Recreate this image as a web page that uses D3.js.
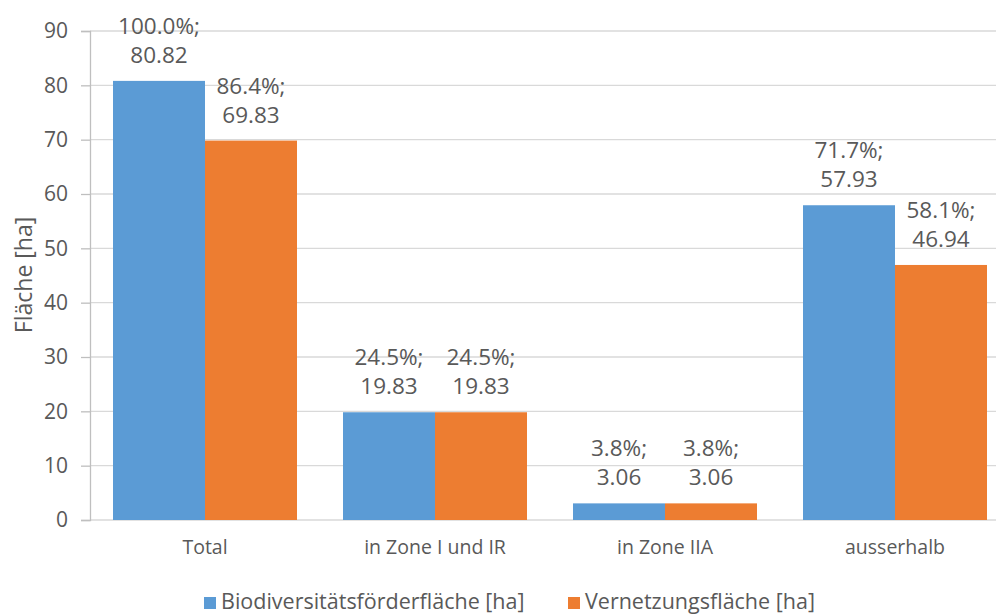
<!DOCTYPE html>
<html>
<head>
<meta charset="utf-8">
<script src="https://cdn.jsdelivr.net/npm/d3@7"></script>
<style>
  html, body { margin: 0; padding: 0; background: #fff; }
  svg { display: block; font-family: "Open Sans", "Noto Sans", sans-serif; }
</style>
</head>
<body>
<svg id="chart" width="996" height="614"></svg>
<script>
// Flächen nach Zone
const categories = ["Total", "in Zone I und IR", "in Zone IIA", "ausserhalb"];
const seriesNames = ["Biodiversitätsförderfläche [ha]", "Vernetzungsfläche [ha]"];
const biodiversitaet = [80.82, 19.83, 3.06, 57.93];
const vernetzung = [69.83, 19.83, 3.06, 46.94];
const biodiversitaetPct = ["100.0%", "24.5%", "3.8%", "71.7%"];
const vernetzungPct = ["86.4%", "24.5%", "3.8%", "58.1%"];
const yTicks = [0, 10, 20, 30, 40, 50, 60, 70, 80, 90];

const colors = ["#5B9BD5", "#ED7D31"];
const textColor = "#595959";
const gridColor = "#D9D9D9";

const svg = d3.select("#chart");
const plotLeft = 90, plotRight = 1010, plotTop = 31, plotBottom = 520;

const x = d3.scaleBand().domain(categories).range([plotLeft, plotRight])
  .paddingInner(0.2).paddingOuter(0.1);
const xs = d3.scaleBand().domain([0, 1]).range([0, x.bandwidth()]);
const y = d3.scaleLinear().domain([0, 90]).range([plotBottom, plotTop]);

// Gitterlinien
svg.append("g").selectAll("line").data(yTicks).join("line")
  .attr("x1", plotLeft).attr("x2", plotRight)
  .attr("y1", d => y(d)).attr("y2", d => y(d))
  .attr("stroke", gridColor).attr("stroke-width", 1.3);

// y-Achse
const yAxis = svg.append("g").attr("transform", `translate(${plotLeft},0)`)
  .call(d3.axisLeft(y).tickValues(yTicks).tickSize(9).tickPadding(13));
yAxis.select(".domain").attr("stroke", "#BFBFBF").attr("stroke-width", 1.3);
yAxis.selectAll(".tick line").attr("stroke", "#BFBFBF").attr("stroke-width", 1.3);
yAxis.selectAll(".tick text").attr("fill", textColor)
  .style("font-size", "21px").style("font-family", "'Open Sans', sans-serif");

// x-Achse (Beschriftung)
const xAxis = svg.append("g").attr("transform", `translate(0,${plotBottom})`)
  .call(d3.axisBottom(x).tickSize(0).tickPadding(20));
xAxis.select(".domain").remove();
xAxis.selectAll(".tick text").attr("fill", textColor)
  .style("font-size", "19.5px").style("font-family", "'Open Sans', sans-serif");

// Balken
const series = [biodiversitaet, vernetzung];
const pcts = [biodiversitaetPct, vernetzungPct];
const rows = [];
series.forEach((vals, s) => vals.forEach((v, i) => rows.push({ s, i, v, p: pcts[s][i] })));

svg.append("g").selectAll("rect").data(rows).join("rect")
  .attr("x", d => x(categories[d.i]) + xs(d.s))
  .attr("width", xs.bandwidth())
  .attr("y", d => y(d.v))
  .attr("height", d => y(0) - y(d.v))
  .attr("fill", d => colors[d.s]);

// Datenbeschriftungen
const lbl = svg.append("g").selectAll("text").data(rows).join("text")
  .attr("text-anchor", "middle")
  .attr("fill", textColor)
  .style("font-size", "22.5px");
lbl.append("tspan")
  .attr("x", d => x(categories[d.i]) + xs(d.s) + xs.bandwidth() / 2)
  .attr("y", d => y(d.v) - 47)
  .text(d => d.p + ";");
lbl.append("tspan")
  .attr("x", d => x(categories[d.i]) + xs(d.s) + xs.bandwidth() / 2)
  .attr("y", d => y(d.v) - 18)
  .text(d => d3.format(".2f")(d.v));

// y-Achsentitel
svg.append("text")
  .attr("transform", "translate(32,275) rotate(-90)")
  .attr("text-anchor", "middle")
  .attr("fill", textColor)
  .style("font-size", "23px")
  .text("Fläche [ha]");

// Legende
const legendX = [204, 568];
const leg = svg.append("g").selectAll("g").data(seriesNames).join("g")
  .attr("transform", (d, i) => `translate(${legendX[i]},0)`);
leg.append("rect").attr("x", 0).attr("y", 597).attr("width", 12).attr("height", 12)
  .attr("fill", (d, i) => colors[i]);
leg.append("text").attr("x", 17).attr("y", 609)
  .attr("fill", textColor).style("font-size", "21.5px")
  .text(d => d);
</script>
</body>
</html>
